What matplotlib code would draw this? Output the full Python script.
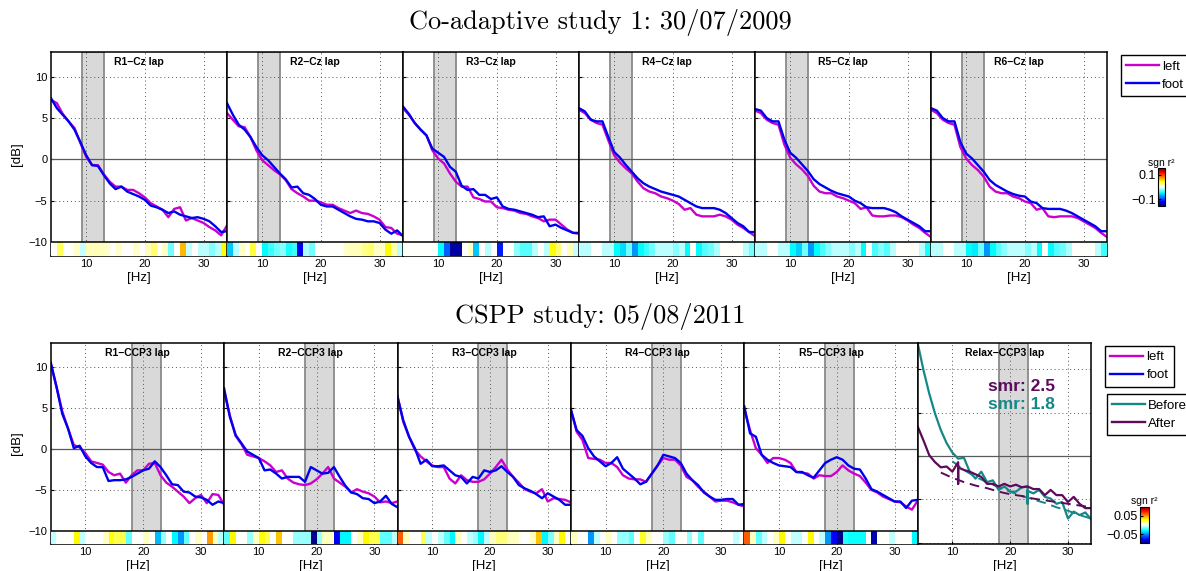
import matplotlib.pyplot as plt
from matplotlib.colors import LinearSegmentedColormap, Normalize
from matplotlib.cm import ScalarMappable
from matplotlib.lines import Line2D

plt.rcParams['font.family'] = ['Liberation Sans', 'DejaVu Sans']

# ---------------- data ----------------
freqs = list(range(4, 35))          # Hz, one point per bin
cell_edges = list(range(4, 35))     # edges of the r^2 strip cells

top_titles = ['R1\u2212Cz lap', 'R2\u2212Cz lap', 'R3\u2212Cz lap',
              'R4\u2212Cz lap', 'R5\u2212Cz lap', 'R6\u2212Cz lap']
top_band = (9.3, 13.0)

top_left = [
    [7.2, 6.8, 5.5, 4.6, 3.8, 2.0, 0.3, -0.7, -0.7, -1.8, -2.7, -3.3, -3.3, -3.7, -3.7, -4.1,
     -4.6, -5.3, -5.7, -6.1, -7.0, -6.0, -5.8, -7.4, -7.1, -7.4, -7.7, -8.2, -8.6, -9.2, -8.0],
    [5.6, 4.8, 4.0, 3.9, 2.7, 1.1, -0.1, -0.7, -1.3, -1.8, -2.5, -3.6, -4.1, -4.5, -5.0, -5.0,
     -5.2, -5.5, -5.5, -5.9, -6.2, -6.5, -6.2, -6.5, -6.6, -6.9, -7.3, -8.2, -8.3, -9.0, -9.2],
    [6.2, 5.4, 4.4, 3.6, 2.9, 1.1, 0.1, -0.5, -1.7, -2.7, -3.3, -3.3, -4.6, -4.8, -5.1, -5.1,
     -5.8, -5.9, -6.1, -6.2, -6.5, -6.6, -6.9, -7.1, -7.5, -7.3, -7.3, -7.9, -8.5, -8.9, -9.0],
    [6.0, 5.6, 4.8, 4.4, 4.2, 2.3, 0.5, -0.4, -1.1, -1.7, -2.7, -3.5, -3.9, -4.1, -4.5, -4.7,
     -5.0, -5.4, -6.1, -5.9, -6.7, -6.9, -6.9, -6.9, -6.7, -6.9, -7.3, -7.9, -8.3, -8.8, -9.3],
    [5.9, 5.6, 4.8, 4.4, 4.2, 1.8, 0.2, -0.6, -1.2, -2.0, -3.2, -3.9, -4.1, -4.1, -4.5, -4.7,
     -5.0, -5.3, -6.0, -5.8, -6.8, -6.9, -6.9, -6.8, -6.8, -7.0, -7.4, -7.9, -8.3, -8.9, -9.4],
    [6.0, 5.6, 4.8, 4.4, 4.2, 1.5, 0.1, -0.7, -1.3, -2.1, -3.3, -3.9, -4.1, -4.1, -4.5, -4.7,
     -5.1, -5.3, -6.1, -5.9, -6.9, -7.0, -6.9, -6.9, -6.9, -7.1, -7.5, -7.9, -8.3, -8.9, -9.4],
]
top_foot = [
    [7.4, 6.2, 5.4, 4.6, 3.6, 2.1, 0.5, -0.7, -0.8, -1.9, -2.9, -3.6, -3.3, -3.9, -4.2, -4.5,
     -4.9, -5.6, -5.8, -6.1, -6.5, -6.3, -6.7, -6.9, -7.1, -7.0, -7.2, -7.5, -8.1, -8.8, -8.7],
    [6.8, 5.4, 4.2, 3.6, 2.7, 1.5, 0.5, -0.1, -0.9, -1.7, -2.4, -3.4, -3.3, -4.1, -4.3, -4.8,
     -5.5, -5.7, -5.7, -6.1, -6.5, -6.9, -7.2, -7.3, -7.5, -7.5, -7.7, -8.5, -9.0, -8.6, -9.3],
    [6.4, 5.5, 4.4, 3.6, 2.9, 1.3, 0.8, 0.3, -0.9, -1.5, -3.2, -3.7, -3.6, -4.3, -4.3, -4.8,
     -4.6, -5.7, -6.0, -6.1, -6.3, -6.5, -6.7, -7.0, -6.9, -8.1, -7.9, -8.3, -8.6, -8.9, -8.9],
    [6.2, 5.8, 4.8, 4.6, 4.6, 2.7, 0.9, 0.2, -0.7, -1.5, -2.3, -2.9, -3.3, -3.6, -3.9, -4.1,
     -4.3, -4.5, -4.9, -5.3, -5.7, -5.9, -5.9, -5.9, -6.1, -6.5, -7.1, -7.7, -8.1, -8.8, -8.8],
    [6.1, 5.9, 5.0, 4.6, 4.6, 2.4, 0.8, 0.2, -0.6, -1.4, -2.4, -3.0, -3.4, -3.8, -4.1, -4.3,
     -4.5, -5.0, -5.3, -5.8, -5.9, -5.9, -5.9, -6.1, -6.4, -6.9, -7.3, -7.7, -8.1, -8.7, -8.7],
    [6.2, 5.9, 5.0, 4.6, 4.6, 2.1, 0.7, 0.1, -0.7, -1.5, -2.5, -3.1, -3.5, -3.9, -4.2, -4.4,
     -4.5, -5.1, -5.3, -5.9, -6.0, -6.0, -6.0, -6.2, -6.5, -6.9, -7.3, -7.7, -8.1, -8.7, -8.7],
]
# signed r^2 per 1 Hz cell
top_r2 = [
    [0, 0.03, 0, 0, 0.01, -0.01, 0.012, 0.012, 0.012, 0.01, 0, 0.01, 0, 0, 0.01, 0, 0.012,
     0.025, 0, 0.01, -0.025, 0, 0.065, -0.01, 0, -0.012, -0.012, -0.022, -0.012, 0.045],
    [-0.06, -0.012, 0.01, 0, 0.035, 0, -0.045, -0.035, -0.025, -0.02, -0.04, -0.035, -0.12,
     -0.015, -0.025, 0, 0, 0, 0, 0, 0.01, 0.012, 0.012, 0.02, 0.025, 0.01, 0.01, 0.045, 0.015, -0.012],
    [0, 0, 0, 0, 0, 0, -0.045, -0.09, -0.14, -0.14, 0, 0.01, -0.06, 0, -0.012, 0, -0.11, 0, 0,
     -0.02, -0.03, -0.03, -0.012, 0, -0.012, 0.045, 0.025, 0, 0.012, -0.01],
    [-0.012, -0.012, 0, 0, -0.012, -0.012, -0.045, -0.055, -0.025, -0.075, -0.045, -0.035,
     -0.025, -0.012, -0.012, -0.012, -0.02, -0.012, -0.045, 0, -0.045, -0.03, -0.025, -0.015,
     0, 0, 0, 0, -0.012, -0.025],
    [-0.012, -0.012, 0, 0, -0.012, -0.012, -0.045, -0.058, -0.025, -0.075, -0.045, -0.032,
     -0.022, -0.012, -0.012, -0.012, -0.022, -0.012, -0.045, 0, -0.032, -0.022, -0.03, -0.012,
     0, 0, 0, 0, -0.012, -0.04],
    [-0.012, -0.012, 0, 0, -0.012, -0.012, -0.045, -0.05, -0.025, -0.075, -0.045, -0.03,
     -0.02, -0.012, -0.012, -0.012, -0.022, -0.012, -0.045, 0, -0.045, -0.03, -0.025, -0.015,
     0, 0, 0, 0, -0.012, -0.035],
]

bot_titles = ['R1\u2212CCP3 lap', 'R2\u2212CCP3 lap', 'R3\u2212CCP3 lap',
              'R4\u2212CCP3 lap', 'R5\u2212CCP3 lap']
bot_band = (18.0, 23.0)

bot_left = [
    [10.4, 7.6, 4.6, 2.5, 0.5, 0.2, -0.5, -1.5, -1.7, -1.9, -2.8, -3.2, -3.0, -4.1, -3.2, -2.6,
     -2.6, -1.8, -1.7, -3.2, -4.1, -4.6, -5.2, -5.8, -6.6, -6.0, -5.6, -6.6, -5.5, -5.6, -6.8],
    [7.0, 4.1, 1.6, 0.6, -0.7, -0.9, -1.1, -1.5, -2.0, -2.8, -2.6, -3.6, -4.1, -4.3, -4.4, -4.2,
     -3.7, -3.0, -2.2, -3.6, -4.1, -4.6, -5.3, -4.9, -5.2, -5.4, -5.8, -6.5, -6.4, -6.6, -6.4],
    [6.5, 3.3, 1.5, -0.1, -0.9, -1.5, -2.0, -2.2, -2.2, -3.6, -4.2, -3.2, -3.8, -4.0, -4.0, -3.7,
     -3.0, -2.2, -1.3, -2.5, -3.4, -4.1, -4.9, -5.2, -5.4, -4.9, -6.4, -6.0, -6.1, -6.2, -6.5],
    [4.8, 2.1, 1.1, -1.1, -1.2, -1.3, -1.7, -1.7, -2.2, -3.2, -3.6, -3.7, -3.7, -4.0, -3.0, -2.0,
     -1.1, -1.3, -1.3, -2.0, -3.4, -3.8, -4.6, -5.2, -5.8, -6.4, -6.3, -6.3, -6.5, -6.8, -7.0],
    [4.8, 2.3, 0.1, -0.7, -1.7, -1.1, -1.1, -1.3, -1.7, -2.8, -2.9, -3.0, -3.6, -3.2, -3.3, -3.3,
     -2.8, -2.0, -2.6, -3.0, -3.3, -4.1, -5.0, -5.3, -5.8, -6.1, -6.4, -6.5, -7.0, -7.4, -6.3],
]
bot_foot = [
    [10.6, 7.6, 4.3, 2.5, 0.1, 0.4, -0.9, -1.7, -2.2, -2.2, -3.9, -3.8, -3.8, -3.7, -3.4, -3.0,
     -2.6, -2.4, -1.5, -2.2, -3.2, -4.3, -4.4, -5.2, -5.3, -5.8, -5.9, -6.2, -6.8, -6.4, -6.6],
    [7.4, 3.9, 1.7, 0.7, -0.3, -0.7, -1.1, -2.6, -2.5, -3.0, -3.6, -3.4, -3.4, -3.4, -4.0, -2.2,
     -2.6, -3.0, -2.9, -2.2, -3.4, -4.5, -5.3, -5.5, -6.0, -6.1, -6.6, -6.4, -5.7, -6.7, -7.1],
    [6.3, 3.5, 1.5, 0.1, -1.8, -1.3, -2.1, -2.1, -2.0, -2.6, -3.2, -3.4, -4.2, -3.4, -3.6, -2.6,
     -2.8, -2.6, -2.1, -2.8, -3.4, -4.4, -4.8, -5.1, -5.5, -6.0, -5.4, -5.8, -6.2, -6.8, -6.8],
    [4.8, 2.3, 1.6, 0.1, -0.9, -1.5, -2.1, -1.7, -1.0, -2.4, -3.0, -3.6, -4.3, -4.0, -3.0, -2.0,
     -0.7, -0.9, -1.1, -1.7, -3.0, -3.8, -4.4, -5.3, -5.8, -6.2, -6.2, -6.1, -6.1, -6.8, -6.7],
    [5.2, 1.9, 1.5, -0.7, -1.3, -1.7, -2.0, -2.1, -2.2, -2.8, -2.8, -3.2, -3.5, -2.6, -1.7, -1.3,
     -1.0, -1.3, -2.0, -2.4, -2.5, -3.6, -4.9, -5.2, -5.6, -6.0, -6.4, -6.4, -7.2, -6.3, -6.2],
]
bot_r2 = [
    [-0.007, 0, 0, 0, 0.03, -0.007, 0, 0, 0, 0.007, 0.028, 0.02, 0.02, -0.018, 0, 0, 0.007, 0,
     -0.042, -0.012, 0, -0.03, -0.049, -0.018, 0, 0.007, 0, 0.048, 0.007, -0.007],
    [-0.018, 0.03, 0, 0, -0.012, 0.007, 0.028, 0.02, 0, 0.04, 0, 0, -0.012, -0.012, -0.012,
     -0.095, -0.012, 0.007, 0.007, -0.078, -0.03, -0.03, 0, 0.007, 0.03, 0.02, 0.02, -0.018,
     -0.018, -0.007],
    [0.059, 0.007, 0, 0, 0.02, -0.007, 0, -0.007, -0.018, -0.03, 0.007, 0, -0.007, -0.012, -0.03,
     -0.007, 0.007, 0.015, 0.015, 0.007, 0.007, 0, 0, 0.007, 0.04, -0.03, -0.015, 0.007, 0.03, 0],
    [0.007, 0, 0, -0.049, -0.007, 0, 0.007, 0, -0.012, -0.012, -0.018, 0, 0.025, 0.007, 0, 0,
     -0.012, -0.018, 0, 0, -0.012, 0, -0.018, 0, 0, 0, 0, 0, -0.007, 0],
    [0.059, 0.007, -0.018, -0.007, 0, 0.007, 0.03, 0, -0.007, -0.007, 0, 0.03, 0, -0.007, -0.049,
     -0.078, -0.095, -0.025, -0.028, -0.028, -0.028, 0, -0.09, 0, 0, -0.007, 0, 0, 0, -0.03],
]

relax_title = 'Relax\u2212CCP3 lap'
before_f = [4, 5, 6, 7, 8, 9, 10, 11, 12, 13, 14, 15, 16, 17, 18, 19, 20, 21, 22, 23, 23, 23,
            24, 25, 26, 27, 28, 29, 30, 31, 32, 33, 34]
before_db = [13.0, 9.9, 7.2, 4.9, 3.0, 1.5, 0.4, -0.3, -0.2, -1.8, -2.6, -1.8, -3.0, -2.8, -3.9,
             -3.5, -4.1, -4.1, -3.6, -3.5, -5.5, -4.0, -4.3, -3.9, -4.7, -4.9, -5.5, -5.3, -7.2,
             -6.4, -6.8, -6.5, -7.3]
after_f = [4, 5, 6, 7, 8, 9, 10, 11, 11, 11, 12, 13, 14, 15, 16, 17, 18, 19, 20, 21, 22, 23,
           24, 25, 26, 27, 28, 29, 30, 31, 32, 33, 34]
after_db = [3.4, 1.8, 0.1, -0.7, -1.3, -1.2, -1.8, -0.7, -3.2, -1.3, -1.6, -1.8, -2.1, -2.4,
            -3.2, -3.2, -3.5, -3.2, -3.5, -3.3, -3.6, -3.5, -3.8, -3.8, -4.5, -3.9, -4.5, -4.5,
            -5.3, -4.7, -5.5, -6.0, -6.0]
before_fit_f = [10, 12, 14, 16, 18, 20, 22, 24, 26, 28, 30, 32, 34]
before_fit = [-0.6, -1.6, -2.4, -3.0, -3.6, -4.1, -4.6, -5.0, -5.4, -5.9, -6.3, -6.8, -7.2]
after_fit_f = [8, 10, 12, 14, 16, 18, 20, 22, 24, 26, 28, 30, 32, 34]
after_fit = [-1.9, -2.5, -3.0, -3.4, -3.7, -4.1, -4.4, -4.6, -4.9, -5.1, -5.3, -5.5, -5.7, -5.9]
smr_after, smr_before = 2.5, 1.8

# ---------------- figure ----------------
W, H = 1186, 571
fig = plt.figure(figsize=(W / 100, H / 100), dpi=100)


def px_axes(x0, y0, x1, y1):
    return fig.add_axes([x0 / W, 1 - y1 / H, (x1 - x0) / W, (y1 - y0) / H])


cmap = LinearSegmentedColormap.from_list('sgnr2', [
    (0.0, '#00007f'), (0.11, '#0000ff'), (0.35, '#00ffff'), (0.5, '#ffffff'),
    (0.65, '#ffff00'), (0.89, '#ff0000'), (1.0, '#7f0000')])
top_norm = Normalize(-0.15, 0.15)
bot_norm = Normalize(-0.098, 0.098)

LEFT_C, FOOT_C = '#cc00cc', '#0000f0'
TEAL, PURPLE = '#168787', '#5c0a5c'


def base_panel(ax, title, band, ylim, first):
    ax.axvspan(band[0], band[1], facecolor='#d9d9d9', edgecolor='#8a8a8a', lw=1.3, zorder=0.5)
    ax.axhline(0, color='#5a5a5a', lw=0.9, zorder=1.6)
    ax.set_xlim(4, 34)
    ax.set_ylim(*ylim)
    ax.set_xticks([10, 20, 30])
    ax.set_yticks([-10, -5, 0, 5, 10])
    ax.grid(True, ls=(0, (1, 3)), color='#555555', lw=0.7)
    ax.tick_params(direction='in', length=2.5, labelsize=8, pad=2.5, labelleft=first)
    for s in ax.spines.values():
        s.set_linewidth(1.1)
    ax.text(0.5, 0.975, title, transform=ax.transAxes, ha='center', va='top',
            fontsize=7.5, fontweight='bold', zorder=5)
    ax.set_xlabel('[Hz]', fontsize=9.5, labelpad=2)
    if first:
        ax.set_ylabel('[dB]', fontsize=9.5, labelpad=4)


def strip(ax, vals, norm, ybot):
    ax.pcolormesh(cell_edges, [ybot, -10], [vals], cmap=cmap, norm=norm, zorder=3)
    ax.axhline(-10, color='k', lw=1.1, zorder=3.5)


# top row
for i in range(6):
    ax = px_axes(51 + i * 176, 52, 51 + (i + 1) * 176, 256)
    ylim = (-11.7, 13.0)
    base_panel(ax, top_titles[i], top_band, ylim, i == 0)
    ax.plot(freqs, top_left[i], color=LEFT_C, lw=1.7, zorder=2)
    ax.plot(freqs, top_foot[i], color=FOOT_C, lw=1.7, zorder=2.1)
    strip(ax, top_r2[i], top_norm, ylim[0])

# bottom row
bw = 173.4
for i in range(5):
    ax = px_axes(50.7 + i * bw, 343.3, 50.7 + (i + 1) * bw, 543.7)
    ylim = (-11.55, 12.9)
    base_panel(ax, bot_titles[i], bot_band, ylim, i == 0)
    ax.plot(freqs, bot_left[i], color=LEFT_C, lw=1.7, zorder=2)
    ax.plot(freqs, bot_foot[i], color=FOOT_C, lw=1.7, zorder=2.1)
    strip(ax, bot_r2[i], bot_norm, ylim[0])

ax = px_axes(50.7 + 5 * bw, 343.3, 50.7 + 6 * bw, 543.7)
base_panel(ax, relax_title, bot_band, (-10.1, 13.0), False)
ax.plot(before_f, before_db, color=TEAL, lw=1.6, zorder=2)
ax.plot(after_f, after_db, color=PURPLE, lw=1.6, zorder=2.1)
ax.plot(before_fit_f, before_fit, color=TEAL, lw=1.4, ls=(0, (5, 3)), zorder=2)
ax.plot(after_fit_f, after_fit, color=PURPLE, lw=1.4, ls=(0, (5, 3)), zorder=2)
ax.text(22.0, 8.0, f'smr: {smr_after}', color=PURPLE, fontsize=12.5, fontweight='bold',
        ha='center', va='center')
ax.text(22.0, 6.0, f'smr: {smr_before}', color=TEAL, fontsize=12.5, fontweight='bold',
        ha='center', va='center')

# section titles
fig.text(600 / W, 1 - 22 / H, 'Co-adaptive study 1: 30/07/2009', ha='center', va='center',
         fontsize=19, family=['cmr10', 'DejaVu Serif'])
fig.text(600 / W, 1 - 316 / H, 'CSPP study: 05/08/2011', ha='center', va='center',
         fontsize=19, family=['cmr10', 'DejaVu Serif'])

# legends
leg_kw = dict(loc='upper left', fontsize=9.5, frameon=True, fancybox=False, edgecolor='k',
              framealpha=1, borderaxespad=0, handlelength=2.5, handletextpad=0.25,
              labelspacing=0.45, borderpad=0.4)
h_lf = [Line2D([], [], color=LEFT_C, lw=1.7), Line2D([], [], color=FOOT_C, lw=1.7)]
h_ba = [Line2D([], [], color=TEAL, lw=1.7), Line2D([], [], color=PURPLE, lw=1.7)]
for handles, labels, (x, y) in [(h_lf, ['left', 'foot'], (1120.7, 55)),
                                (h_lf, ['left', 'foot'], (1105, 345.7)),
                                (h_ba, ['Before', 'After'], (1106.7, 394))]:
    lg = fig.legend(handles, labels, bbox_to_anchor=(x / W, 1 - y / H), **leg_kw)
    lg.get_frame().set_linewidth(1.0)

# colorbars
for (x0, y0, x1, y1), norm, ticks in [((1157.7, 168.3, 1165, 205.7), top_norm, [-0.1, 0.1]),
                                       ((1140, 506.7, 1149.3, 543.3), bot_norm, [-0.05, 0.05])]:
    cax = px_axes(x0, y0, x1, y1)
    cb = fig.colorbar(ScalarMappable(norm=norm, cmap=cmap), cax=cax, ticks=ticks)
    cb.outline.set_linewidth(0.8)
    cax.yaxis.set_ticks_position('left')
    cax.tick_params(labelsize=9, length=2, direction='in', pad=1.5)
    cax.set_title('sgn r\u00b2', fontsize=7.5, pad=2)

fig.savefig('out.png', dpi=100)
